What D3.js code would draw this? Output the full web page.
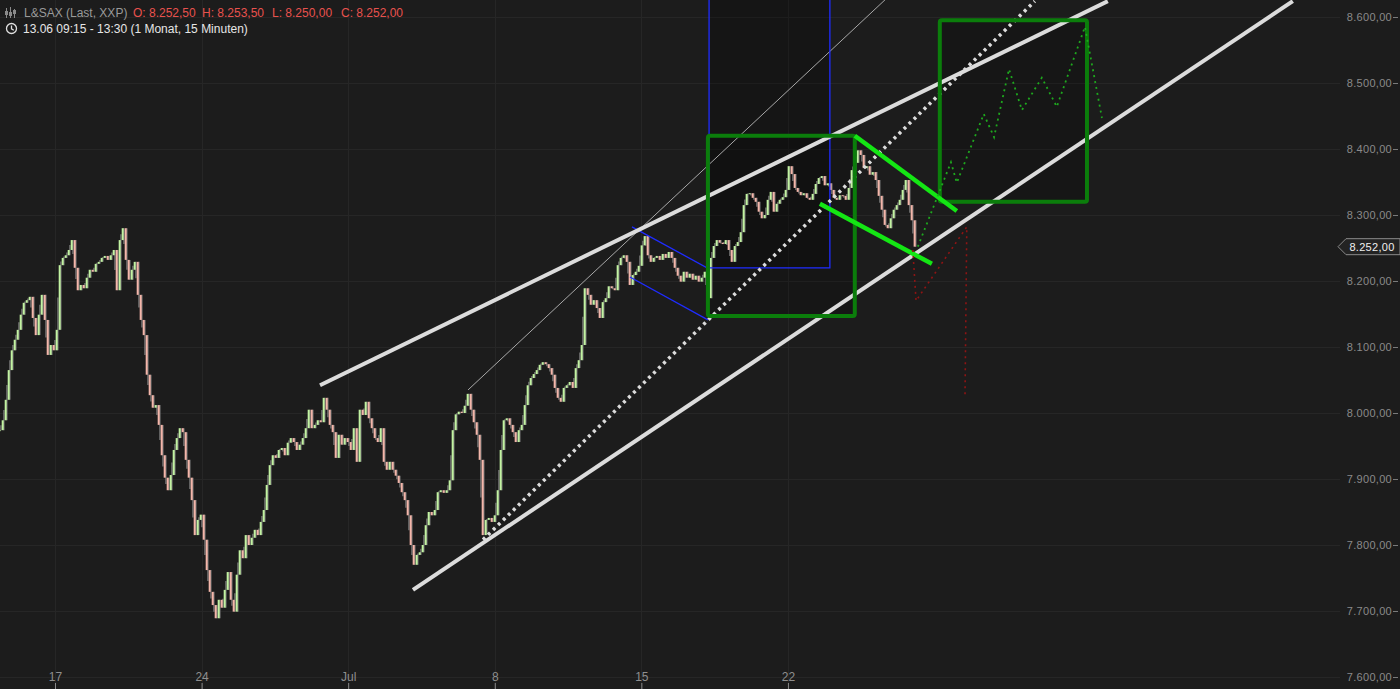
<!DOCTYPE html>
<html><head><meta charset="utf-8">
<script src="https://cdn.jsdelivr.net/npm/d3@7"></script>
<style>
html,body{margin:0;padding:0;background:#1c1c1c;overflow:hidden;}
svg{display:block;}
</style></head><body>
<svg id="chart" width="1400" height="689"></svg>
<script>
// ---- DATA ----
// 15-minute closes (sampled), time in trading days from Mon 17 June
const closes = [
7974,7989,8020,8065,8095,8111,8126,8149,8167,8171,
8176,8144,8118,8149,8179,8141,8088,8103,8095,8126,
8224,8235,8239,8247,8262,8220,8186,8194,8189,8205,
8217,8214,8226,8229,8235,8238,8232,8239,8247,8186,
8262,8280,8232,8202,8217,8229,8179,8141,8118,8058,
8027,8008,8012,7982,7936,7902,7883,7906,7944,7962,
7977,7971,7929,7902,7868,7815,7838,7846,7808,7762,
7729,7709,7689,7717,7705,7732,7759,7717,7699,7755,
7792,7780,7815,7800,7811,7823,7815,7835,7853,7891,
7921,7936,7932,7944,7947,7936,7955,7962,7956,7944,
7952,7962,7977,8005,7977,7982,7989,7986,8023,8005,
7982,7971,7932,7967,7952,7962,7956,7944,7977,7926,
8005,7997,8017,7992,7977,7962,7956,7977,7926,7914,
7926,7914,7905,7894,7880,7868,7845,7800,7770,7785,
7789,7800,7830,7850,7845,7853,7880,7883,7879,7883,
7898,7974,7998,8002,8000,8011,8029,8005,7986,7967,
7929,7815,7838,7841,7835,7845,7883,7944,7989,7992,
7982,7971,7956,7974,7982,8012,8042,8053,8059,8065,
8073,8077,8074,8068,8058,8038,8023,8017,8038,8042,
8047,8038,8068,8080,8103,8189,8179,8164,8171,8159,
8144,8168,8174,8192,8189,8186,8224,8235,8239,8229,
8194,8209,8214,8223,8254,8268,8239,8229,8235,8238,
8232,8241,8235,8244,8235,8220,8208,8199,8214,8205,
8211,8202,8208,8199,8205,8214,8174,8235,8253,8262,
8258,8256,8262,8247,8229,8253,8259,8274,8315,8332,
8333,8326,8320,8305,8295,8300,8323,8335,8305,8317,
8323,8327,8338,8374,8362,8341,8335,8330,8333,8326,
8323,8332,8347,8356,8359,8345,8348,8338,8326,8323,
8330,8329,8323,8341,8368,8379,8398,8391,8371,8374,
8361,8365,8353,8329,8308,8285,8280,8295,8308,8315,
8323,8338,8353,8315,8292,8252
];
const firstBarDay = -1.876;
const barStepDays = 0.10232;

const dateTicks = [0,5,10,15,20,25];
const dateTickLabels = ["17","24","Jul","8","15","22"];
const priceTicks = [7600,7700,7800,7900,8000,8100,8200,8300,8400,8500,8600];
const lastPrice = 8252;

const titleText = "L&SAX (Last, XXP)";
const ohlcLabels = ["O: 8.252,50","H: 8.253,50","L: 8.250,00","C: 8.252,00"];
const rangeText = "13.06 09:15 - 13:30 (1 Monat, 15 Minuten)";

// drawings: [day, price]
const upperChannel = [[9.04,8042],[35.91,8624]];
const lowerChannel = [[12.21,7732],[42.22,8624]];
const dottedTrend = [[14.60,7808],[33.42,8624]];
const thinRay = [[14.09,8035],[28.31,8626]];
const blueUpper = [[19.68,8282],[22.24,8220],[26.43,8220],[26.43,8640]];
const blueLower = [[19.61,8206],[22.27,8141]];
const blueLeft = [[22.31,8640],[22.31,8220]];
const shadeRect = {d0:22.31,d1:26.43,p0:8220,p1:8640};
const greenBoxes = [
  {d0:22.27,d1:27.28,p0:8147,p1:8420},
  {d0:30.18,d1:35.20,p0:8320,p1:8595}
];
const flagUpper = [[27.28,8420],[30.76,8306]];
const flagLower = [[26.09,8317],[29.91,8226]];
const redPath = [[29.26,8247],[29.37,8170],[31.10,8282],[31.04,8027]];
const greenPath = [[29.43,8252],[30.56,8380],[30.76,8349],[31.68,8453],[32.03,8418],
  [32.54,8521],[32.98,8459],[33.66,8508],[34.17,8464],[35.13,8585],[35.71,8447]];

// ---- CHART ----
const W=1400,H=689, plotRight=1340;
const svg = d3.select("#chart");
svg.append("rect").attr("width",W).attr("height",H).attr("fill","#1c1c1c");

const x = d3.scaleLinear().domain([-1.876, 43.83]).range([0, plotRight]);
const y = d3.scaleLinear().domain([7600, 8600]).range([677, 17]);
const line = d3.line().x(d=>x(d[0])).y(d=>y(d[1]));

svg.append("defs").append("clipPath").attr("id","plot")
  .append("rect").attr("x",0).attr("y",0).attr("width",plotRight).attr("height",689);

const plot = svg.append("g").attr("clip-path","url(#plot)");

// grid
plot.append("g").selectAll("line").data(priceTicks).join("line")
  .attr("x1",0).attr("x2",plotRight).attr("y1",d=>Math.round(y(d))+0.5).attr("y2",d=>Math.round(y(d))+0.5)
  .attr("stroke","#262626").attr("stroke-width",1);
plot.append("g").selectAll("line").data(dateTicks).join("line")
  .attr("x1",d=>Math.round(x(d))+0.5).attr("x2",d=>Math.round(x(d))+0.5).attr("y1",0).attr("y2",689)
  .attr("stroke","#262626").attr("stroke-width",1);

// shaded rect
plot.append("rect")
  .attr("x",x(shadeRect.d0)).attr("width",x(shadeRect.d1)-x(shadeRect.d0))
  .attr("y",y(shadeRect.p1)).attr("height",y(shadeRect.p0)-y(shadeRect.p1))
  .attr("fill","rgba(0,0,0,0.22)");
// green box fills
plot.append("g").selectAll("rect").data(greenBoxes).join("rect")
  .attr("x",d=>x(d.d0)).attr("width",d=>x(d.d1)-x(d.d0))
  .attr("y",d=>y(d.p1)).attr("height",d=>y(d.p0)-y(d.p1))
  .attr("fill","rgba(0,0,0,0.18)");

// candles
const bars = closes.map((c,i)=>{
  const o = i>0 ? closes[i-1] : c;
  const n = i<closes.length-1 ? closes[i+1] : c;
  return {day:firstBarDay+i*barStepDays, open:o, close:c,
    hi:Math.max(o,c,(c+n)/2), lo:Math.min(o,c,(c+n)/2)};
});
const cg = plot.append("g");
cg.selectAll("line").data(bars).join("line")
  .attr("x1",d=>x(d.day)+0.9).attr("x2",d=>x(d.day)+0.9)
  .attr("y1",d=>y(d.hi)).attr("y2",d=>y(d.lo))
  .attr("stroke","#777").attr("stroke-width",1.3);
cg.selectAll("rect").data(bars).join("rect")
  .attr("x",d=>x(d.day)-1.3).attr("width",2.0)
  .attr("y",d=>y(Math.max(d.open,d.close)))
  .attr("height",d=>Math.max(1,Math.abs(y(d.open)-y(d.close))))
  .attr("fill",d=>d.close>=d.open?"#c2f3a2":"#f4b6aa");

// thin ray
plot.append("path").datum(thinRay).attr("d",line).attr("fill","none")
  .attr("stroke","#a8a8a8").attr("stroke-width",1);

// blue lines
[blueUpper,blueLower,blueLeft].forEach(p=>{
  plot.append("path").datum(p).attr("d",line).attr("fill","none")
    .attr("stroke","#1f2cff").attr("stroke-width",1.3);
});

// white channel
[upperChannel,lowerChannel].forEach(p=>{
  plot.append("path").datum(p).attr("d",line).attr("fill","none")
    .attr("stroke","#dcdcdc").attr("stroke-width",4);
});
plot.append("path").datum(dottedTrend).attr("d",line).attr("fill","none")
  .attr("stroke","#dcdcdc").attr("stroke-width",3.5).attr("stroke-dasharray","3,4");

// green boxes
plot.append("g").selectAll("rect").data(greenBoxes).join("rect")
  .attr("x",d=>x(d.d0)).attr("width",d=>x(d.d1)-x(d.d0))
  .attr("y",d=>y(d.p1)).attr("height",d=>y(d.p0)-y(d.p1))
  .attr("rx",2).attr("fill","none").attr("stroke","#0b7d0b").attr("stroke-width",4);

// flag lines
[flagUpper,flagLower].forEach(p=>{
  plot.append("path").datum(p).attr("d",line).attr("fill","none")
    .attr("stroke","#14e614").attr("stroke-width",4.5);
});

// projections
plot.append("path").datum(redPath).attr("d",line).attr("fill","none")
  .attr("stroke","#8e1414").attr("stroke-width",1.6).attr("stroke-dasharray","2,4");
plot.append("path").datum(greenPath).attr("d",line).attr("fill","none")
  .attr("stroke","#1ea81e").attr("stroke-width",1.8).attr("stroke-dasharray","2,4");

// ---- AXES ----
const locale = d3.formatLocale({decimal:",",thousands:".",grouping:[3],currency:["","€"]});
const fmt = locale.format(",.2f");

const yAxis = d3.axisLeft(y).tickValues(priceTicks).tickFormat(fmt).tickSize(5).tickPadding(1);
const ya = svg.append("g").attr("transform","translate(1398,0)").call(yAxis);
ya.select(".domain").remove();
ya.selectAll("line").attr("stroke","#7a7a7a");
ya.selectAll("text").attr("fill","#8a8a8a").attr("font-family","Liberation Sans, Arial, sans-serif")
  .attr("font-size",11).attr("letter-spacing",0.3);

const xAxis = d3.axisBottom(x).tickValues(dateTicks).tickFormat((d,i)=>dateTickLabels[i]).tickSize(6);
const xa = svg.append("g").attr("transform","translate(0,683)").call(xAxis);
xa.select(".domain").remove();
xa.selectAll("line").attr("stroke","#8a8a8a");
xa.selectAll("text").attr("y",-2).attr("dy","0").attr("fill","#8f8f8f")
  .attr("font-family","Liberation Sans Narrow, Arial Narrow, sans-serif").attr("font-size",12);

// last price label
const ly = y(lastPrice);
svg.append("path")
  .attr("d",`M1338,${ly} L1346,${ly-8} L1400,${ly-8} L1400,${ly+8} L1346,${ly+8} Z`)
  .attr("fill","#232323").attr("stroke","#8a8a8a").attr("stroke-width",1);
svg.append("text").attr("x",1372).attr("y",ly+4).attr("text-anchor","middle")
  .attr("fill","#f0f0f0").attr("font-family","Liberation Sans, Arial, sans-serif").attr("font-size",11)
  .attr("letter-spacing",0.3).text(fmt(lastPrice));

// ---- HEADER ----
const hdr = svg.append("g").attr("font-family","Liberation Sans, Arial, sans-serif").attr("font-size",12);
const icon = hdr.append("g").attr("stroke","#8a8a8a").attr("stroke-width",1);
[[6,8,18,11,15],[10,7,18,12,16],[14,9,18,10,14]].forEach(a=>{
  icon.append("line").attr("x1",a[0]+0.5).attr("x2",a[0]+0.5).attr("y1",a[1]).attr("y2",a[2]);
  icon.append("rect").attr("x",a[0]-1).attr("y",a[3]).attr("width",3).attr("height",a[4]-a[3]).attr("fill","#8a8a8a").attr("stroke","none");
});
hdr.append("text").attr("x",24).attr("y",17).attr("fill","#9a9a9a").text(titleText);
const ohlcX = [133,202,272,341];
ohlcLabels.forEach((t,i)=>hdr.append("text").attr("x",ohlcX[i]).attr("y",17).attr("fill","#e8524e").text(t));
const clk = hdr.append("g").attr("stroke","#e0e0e0").attr("fill","none").attr("stroke-width",1.3);
clk.append("circle").attr("cx",11.5).attr("cy",28.5).attr("r",5);
clk.append("path").attr("d","M11.5,25.5 L11.5,28.8 L13.8,30.2");
hdr.append("text").attr("x",23).attr("y",33).attr("fill","#e6e6e6").text(rangeText);
</script>
</body></html>
